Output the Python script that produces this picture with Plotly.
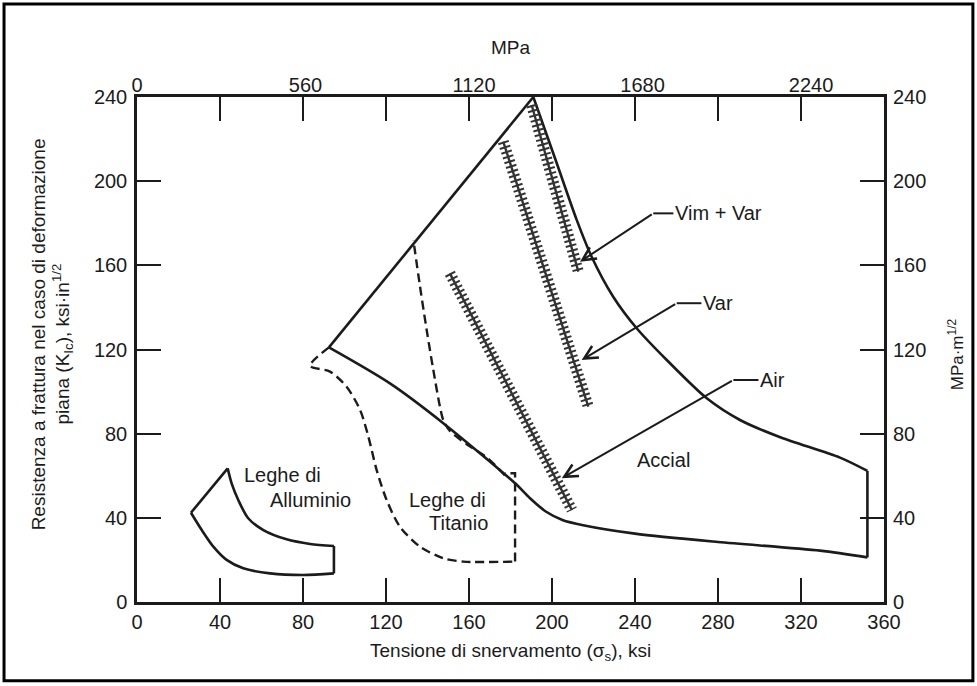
import plotly.graph_objects as go

# ---- data (yield strength in ksi, K_Ic in ksi*in^1/2) ----
x_ticks = [0, 40, 80, 120, 160, 200, 240, 280, 320, 360]
y_ticks = [0, 40, 80, 120, 160, 200, 240]
mpa_ticks = [0, 560, 1120, 1680, 2240]
KSI_TO_MPA = 6.895

# aluminium alloys band: straight left edge, curved top, vertical right edge, curved bottom
al_left_x = [26.0, 43.7]
al_left_y = [42.4, 63.5]
al_top_x = [43.7, 45.6, 48.8, 53.6, 60.9, 72.1, 83.4, 94.9]
al_top_y = [63.5, 56.4, 48.5, 39.8, 34.2, 29.8, 27.6, 26.6]
al_right_x = [94.9, 94.9]
al_right_y = [26.6, 13.6]
al_bottom_x = [94.9, 80.2, 64.1, 51.2, 43.2, 36.8, 31.2, 26.0]
al_bottom_y = [13.6, 12.8, 13.6, 16.0, 20.0, 26.3, 34.2, 42.4]

# titanium alloys band (dashed): curved lower edge, right box corner, inner edge
ti_lower_x = [92.5, 83.4, 93.0, 101.0, 107.5, 111.5, 115.5, 120.3, 126.7, 136.4, 147.6, 157.3, 182.2]
ti_lower_y = [121.0, 112.2, 109.5, 102.3, 91.3, 78.6, 62.7, 48.5, 35.8, 26.3, 20.8, 19.2, 19.2]
ti_corner_x = [182.2, 182.2, 177.3]
ti_corner_y = [19.2, 61.2, 61.2]
ti_inner_x = [177.3, 168.5, 158.9, 150.8, 147.6, 146.0, 142.8, 139.6, 136.4, 133.2]
ti_inner_y = [60.2, 68.7, 75.0, 81.3, 86.5, 92.8, 110.3, 129.3, 149.9, 172.0]

# steels band: straight upper-left edge, curved upper-right edge, vertical end, lower edge
st_left_x = [92.5, 191.0]
st_left_y = [121.0, 240.0]
st_upper_x = [191.0, 202.3, 211.9, 219.1, 229.5, 240.8, 255.3, 274.6, 290.6, 310.0, 338.8, 352.0]
st_upper_y = [240.0, 208.5, 181.6, 164.1, 145.1, 130.1, 115.0, 96.8, 86.5, 78.3, 68.6, 62.3]
st_end_x = [352.0, 352.0]
st_end_y = [62.3, 21.2]
st_lower_x = [352.0, 329.2, 280.0, 240.0, 215.0, 205.0, 197.0, 189.4, 182.2, 147.6, 121.9, 92.5]
st_lower_y = [21.2, 24.4, 28.5, 32.5, 36.5, 39.0, 43.0, 49.3, 56.4, 85.0, 103.9, 121.0]

# melting-practice bands for steels (start/end)
vimvar_x = [190.2, 212.7]
vimvar_y = [236.2, 157.0]
var_x = [176.5, 217.5]
var_y = [218.8, 92.8]
air_x = [150.8, 209.6]
air_y = [156.2, 43.7]

# callouts: label, arrow tip, elbow, label start
callouts = [
    ("Vim + Var", (213.5, 161.7), (248.8, 184.7), (258.5, 184.7)),
    ("Var", (214.3, 115.0), (260.1, 142.0), (272.0, 142.0)),
    ("Air", (204.7, 58.8), (287.4, 105.5), (299.5, 105.5)),
]

INK = "#1b1b1b"
FONT = "Liberation Sans, Arial, sans-serif"

fig = go.Figure()


def outline(xs, ys, curved=False, dash=None, width=2.6):
    fig.add_trace(go.Scatter(
        x=xs, y=ys, mode="lines", hoverinfo="skip",
        line=dict(color=INK, width=width, dash=dash,
                  shape="spline" if curved else "linear", smoothing=0.8)))


outline(al_left_x, al_left_y)
outline(al_top_x, al_top_y, curved=True)
outline(al_right_x, al_right_y)
outline(al_bottom_x, al_bottom_y, curved=True)

ti_dash = "9px,5px"
outline(ti_lower_x, ti_lower_y, curved=True, dash=ti_dash, width=2.4)
outline(ti_corner_x, ti_corner_y, dash=ti_dash, width=2.4)
outline(ti_inner_x, ti_inner_y, curved=True, dash=ti_dash, width=2.4)

outline(st_left_x, st_left_y)
outline(st_upper_x, st_upper_y, curved=True)
outline(st_end_x, st_end_y)
outline(st_lower_x, st_lower_y, curved=True)

# hatched bands: a wide dashed stroke gives the cross-ticks, a thin stroke the spine
for bx, by in [(vimvar_x, vimvar_y), (var_x, var_y), (air_x, air_y)]:
    fig.add_trace(go.Scatter(x=bx, y=by, mode="lines",
                             line=dict(color="#333333", width=11, dash="2px,3px"),
                             hoverinfo="skip"))
    fig.add_trace(go.Scatter(x=bx, y=by, mode="lines",
                             line=dict(color="#333333", width=2.4), hoverinfo="skip"))

# empty trace so the MPa axes (top and right) get drawn
fig.add_trace(go.Scatter(x=[None], y=[None], xaxis="x2", yaxis="y2", mode="lines",
                         hoverinfo="skip"))

label_font = dict(family=FONT, size=20, color=INK)
annotations = []
for label, tip, elbow, start in callouts:
    fig.add_trace(go.Scatter(x=[elbow[0], start[0]], y=[elbow[1], start[1]], mode="lines",
                             line=dict(color=INK, width=2), hoverinfo="skip"))
    annotations.append(dict(x=tip[0], y=tip[1], ax=elbow[0], ay=elbow[1],
                            xref="x", yref="y", axref="x", ayref="y",
                            text="", showarrow=True, arrowhead=5, arrowsize=1.3,
                            arrowwidth=2, arrowcolor=INK, standoff=0))
    annotations.append(dict(x=start[0], y=start[1], xref="x", yref="y",
                            text=label, showarrow=False, xanchor="left", yanchor="middle",
                            font=label_font))

region_labels = [
    ("Leghe di", 70.1, 60.4),
    ("Alluminio", 83.4, 48.5),
    ("Leghe di", 149.6, 48.5),
    ("Titanio", 155.0, 37.5),
    ("Accial", 253.6, 67.5),
]
for txt, lx, ly in region_labels:
    annotations.append(dict(x=lx, y=ly, xref="x", yref="y", text=txt, showarrow=False,
                            xanchor="center", yanchor="middle", font=label_font))

# axis titles
title_font = dict(family=FONT, size=19, color=INK)
annotations += [
    dict(x=0.5, y=-0.099, xref="paper", yref="paper", xanchor="center", yanchor="middle",
         text="Tensione di snervamento (σ<sub>s</sub>), ksi", showarrow=False, font=title_font),
    dict(x=0.5, y=1.099, xref="paper", yref="paper", xanchor="center", yanchor="middle",
         text="MPa", showarrow=False, font=title_font),
    dict(x=-0.1325, y=0.53, xref="paper", yref="paper", xanchor="center", yanchor="middle",
         textangle=-90, text="Resistenza a frattura nel caso di deformazione",
         showarrow=False, font=title_font),
    dict(x=-0.1004, y=0.51, xref="paper", yref="paper", xanchor="center", yanchor="middle",
         textangle=-90, text="piana (K<sub>Ic</sub>), ksi·in<sup>1/2</sup>",
         showarrow=False, font=title_font),
    dict(x=1.096, y=0.49, xref="paper", yref="paper", xanchor="center", yanchor="middle",
         textangle=-90, text="MPa·m<sup>1/2</sup>",
         showarrow=False, font=dict(family=FONT, size=17, color=INK)),
]

tickfont = dict(family=FONT, size=20, color=INK)
fig.update_layout(
    width=977, height=686,
    margin=dict(l=137, r=93, t=97, b=84),
    paper_bgcolor="white", plot_bgcolor="white",
    showlegend=False,
    xaxis=dict(range=[0, 360], tickvals=x_ticks, ticks="inside", ticklen=24, tickwidth=2,
               tickcolor=INK, showline=True, linecolor=INK, linewidth=2.5, mirror="ticks",
               showgrid=False, zeroline=False, tickfont=tickfont),
    yaxis=dict(range=[0, 240], tickvals=y_ticks, ticks="inside", ticklen=24, tickwidth=2,
               tickcolor=INK, showline=True, linecolor=INK, linewidth=2.5, mirror="ticks",
               showgrid=False, zeroline=False, tickfont=tickfont, ticklabelstandoff=3),
    xaxis2=dict(range=[0, 360 * KSI_TO_MPA], tickvals=mpa_ticks, overlaying="x", side="top",
                anchor="y", ticks="", showline=False, showgrid=False, zeroline=False,
                tickfont=tickfont),
    yaxis2=dict(range=[0, 240], tickvals=y_ticks, overlaying="y", side="right", anchor="x",
                ticks="", showline=False, showgrid=False, zeroline=False, tickfont=tickfont,
                ticklabelstandoff=8),
    annotations=annotations,
    shapes=[dict(type="rect", xref="paper", yref="paper",
                 x0=-0.178, x1=1.119, y0=-0.156, y1=1.184,
                 line=dict(color="black", width=3))],
)

fig.write_html("out.html")
